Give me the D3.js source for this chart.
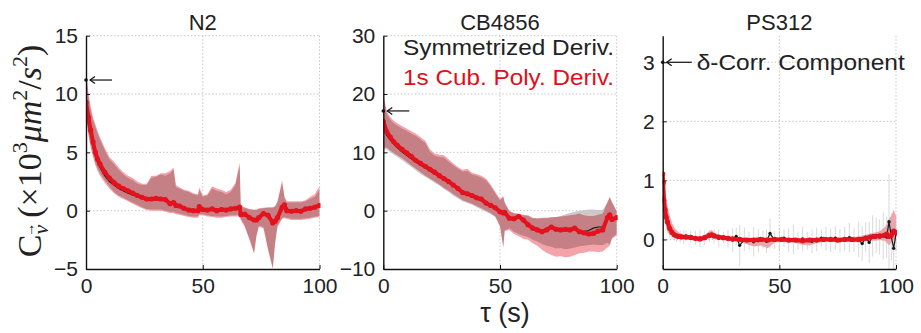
<!DOCTYPE html>
<html>
<head>
<meta charset="utf-8">
<script src="https://cdn.jsdelivr.net/npm/d3@7"></script>
<style>
  body { margin: 0; background: #fff; }
  svg text { font-family: "Liberation Sans", Arial, sans-serif; fill: #222; }
  .grid line { stroke: #c6c6c6; stroke-dasharray: 1.5,2; }
  .band-gray { mix-blend-mode: multiply; }
</style>
</head>
<body>
<svg width="921" height="333"></svg>
<script>
// ---- N2 ----
var tauN2 = [0,1,2,3,4,5,6,8,10,12,14,16,18,20,22,24,26,28,30,32,34,36,37.5,38.5,40,42,44,46,48,48.5,50,52,54,56,58,60,62,64,65.8,66.3,68,70,72,73,74,76,78,80,81,82,84,85,86,88,90,92,94,96,98,100];
var redN2 = [9.3,8.0,6.9,5.9,5.0,4.4,4.0,3.3,2.8,2.4,2.1,1.9,1.7,1.5,1.3,1.15,1.0,1.0,1.05,1.0,0.95,0.6,0.7,0.45,0.4,0.2,0.05,0.0,0.0,0.35,0.1,0.05,0.15,0.0,0.1,0.05,0.15,0.2,0.3,-0.35,-0.3,-0.6,-0.8,-0.8,-0.6,-0.25,-0.4,-1.05,-0.9,-0.6,0.3,0.5,0.0,-0.05,0.0,-0.05,0.15,0.2,0.3,0.45];
var blackN2 = [8.8,7.6,6.5,5.5,4.7,4.1,3.7,3.0,2.5,2.2,1.9,1.7,1.5,1.35,1.2,1.05,0.95,0.95,1.0,0.95,0.9,0.6,0.65,0.45,0.35,0.2,0.05,-0.05,-0.05,0.3,0.05,0.0,0.1,-0.05,0.05,0.0,0.1,0.15,0.25,-0.4,-0.35,-0.65,-0.85,-0.85,-0.65,-0.3,-0.45,-1.1,-0.95,-0.65,0.25,0.45,-0.05,-0.1,-0.05,-0.1,0.1,0.15,0.25,0.4];
var redHiN2 = [12.3,10.2,8.9,8.0,7.4,6.8,6.3,5.4,4.6,4.2,3.7,3.3,3.0,2.8,2.5,2.3,2.3,3.0,3.0,3.2,3.2,3.4,3.7,2.2,2.0,1.8,1.7,1.5,1.4,2.0,1.3,1.4,2.1,1.9,1.8,1.6,1.8,2.4,4.1,0.4,0.3,0.15,0.1,0.1,0.2,0.25,0.3,0.3,0.4,0.8,2.6,1.2,0.8,0.8,0.8,0.8,0.9,1.2,1.4,2.1];
var redLoN2 = [8.0,6.5,5.4,4.6,3.9,3.4,3.0,2.4,1.9,1.5,1.2,1.0,0.8,0.6,0.4,0.2,0.05,0.0,0.0,0.0,-0.1,-0.2,-0.2,-0.3,-0.35,-0.45,-0.55,-0.6,-0.6,-0.4,-0.4,-0.5,-0.55,-0.6,-0.6,-0.55,-0.5,-0.5,-0.4,-0.8,-1.4,-2.5,-3.7,-2.2,-1.4,-1.5,-3.4,-5.0,-2.8,-1.4,-0.7,-0.66,-0.7,-0.8,-0.8,-0.8,-0.75,-0.7,-0.6,-0.55];
var blackHiN2 = [11.8,9.8,8.6,7.8,7.2,6.6,6.1,5.2,4.4,4.0,3.5,3.1,2.8,2.6,2.3,2.2,2.2,2.8,2.9,3.1,3.0,3.2,3.5,2.0,1.9,1.7,1.6,1.4,1.3,1.8,1.2,1.3,1.9,1.7,1.6,1.4,1.6,2.2,3.9,0.3,0.25,0.1,0.05,0.05,0.15,0.2,0.25,0.25,0.35,0.7,2.4,1.1,0.7,0.7,0.7,0.7,0.8,1.0,1.2,1.8];
var blackLoN2 = [8.2,6.7,5.6,4.8,4.1,3.6,3.2,2.6,2.1,1.6,1.3,1.1,0.9,0.7,0.5,0.3,0.15,0.1,0.1,0.1,0.0,-0.1,-0.1,-0.2,-0.25,-0.35,-0.45,-0.5,-0.5,-0.3,-0.3,-0.4,-0.45,-0.5,-0.5,-0.45,-0.4,-0.4,-0.3,-0.7,-1.3,-2.4,-3.6,-2.1,-1.3,-1.4,-3.3,-4.9,-2.7,-1.3,-0.6,-0.55,-0.6,-0.7,-0.7,-0.7,-0.65,-0.6,-0.5,-0.45];

// ---- CB4856 ----
var tauCB = [0,1.5,3,4.5,6,8,10,12,14,16,18,20,22,24,26,28,30,32,34,36,38,40,42,44,46,48,50,51.4,52,54,56,58,60,62,64,66,68,70,72,74,76,78,80,82,84,86,88,90,92,94,96,97,98,100];
var redCB = [15.3,13.5,12.6,11.8,11.2,10.5,9.9,9.3,8.6,8.1,7.6,7.1,6.6,6.0,5.5,5.0,4.4,3.8,3.1,2.9,2.6,2.2,2.0,1.3,0.9,0.5,-0.2,-0.4,-0.3,-1.3,-1.4,-1.0,-1.6,-2.4,-3.0,-3.3,-3.6,-3.3,-2.8,-3.2,-3.3,-3.2,-3.3,-3.0,-3.6,-3.8,-4.0,-3.9,-3.5,-3.3,-1.2,-0.7,-1.5,-1.2];
var blackCB = [14.2,12.9,12.1,11.4,10.8,10.1,9.5,8.9,8.3,7.8,7.3,6.8,6.3,5.8,5.3,4.8,4.2,3.6,3.0,2.7,2.4,2.0,1.7,1.2,0.8,0.4,-0.3,-0.5,-0.4,-1.2,-1.3,-1.1,-1.7,-2.5,-3.1,-3.4,-3.6,-3.3,-2.9,-3.2,-3.3,-3.1,-3.2,-2.9,-3.5,-3.6,-3.4,-3.0,-2.8,-2.8,-1.4,-1.0,-1.6,-1.3];
var redHiCB = [20.0,17.0,16.0,15.4,15.0,14.5,14.1,13.6,13.2,12.6,12.0,10.5,9.8,9.6,9.5,8.8,8.1,7.5,7.0,7.2,6.5,6.3,6.0,5.5,4.5,3.2,2.0,2.5,1.5,0.0,-0.4,-0.5,-0.7,-0.8,-1.2,-1.3,-1.2,-1.2,-1.1,-1.1,-1.0,-0.9,-0.8,-0.7,-0.5,-0.8,-0.9,-0.9,-0.7,-0.5,1.5,2.4,1.5,-0.2];
var redLoCB = [10.8,10.8,10.3,9.9,9.5,9.0,8.4,7.8,7.2,6.6,6.0,5.5,5.0,4.5,3.9,3.4,2.8,2.3,1.8,1.5,1.2,0.8,0.4,0.0,-0.4,-1.0,-2.6,-6.2,-3.5,-3.3,-4.0,-4.4,-4.8,-5.0,-5.6,-6.0,-6.7,-7.2,-7.6,-7.9,-7.8,-8.0,-7.9,-7.6,-7.3,-7.2,-7.0,-7.0,-7.1,-7.0,-6.3,-6.0,-4.8,-4.2];
var blackHiCB = [19.5,16.6,15.6,15.0,14.6,14.1,13.7,13.2,12.8,12.2,11.6,10.1,9.4,9.2,9.1,8.4,7.8,7.2,6.7,6.8,6.2,6.0,5.7,5.2,4.2,3.0,1.8,2.3,1.3,-0.1,-0.5,-0.6,-0.8,-0.9,-1.3,-1.4,-1.3,-1.3,-1.2,-1.1,-0.9,-0.6,-0.4,-0.2,0.0,0.1,0.2,0.2,0.1,0.1,1.3,2.2,1.4,0.0];
var blackLoCB = [10.5,10.5,10.0,9.6,9.2,8.7,8.1,7.5,6.9,6.3,5.8,5.3,4.8,4.3,3.7,3.2,2.6,2.1,1.6,1.3,1.0,0.6,0.2,-0.2,-0.6,-1.1,-2.8,-6.4,-3.4,-3.0,-3.6,-4.0,-4.3,-4.5,-5.0,-5.3,-5.7,-6.0,-6.2,-6.5,-6.4,-6.6,-6.5,-6.3,-6.1,-6.0,-5.9,-5.8,-5.9,-5.9,-5.5,-5.8,-4.6,-4.0];

// ---- PS312 ----
var tauPSred = [0,0.25,0.5,1,1.5,2,3,4,5,6,7,8,10,12,14,16,18,20,21,22,24,26,28,30,33,36,39,42,45,48,51,54,57,60,63,66,69,72,75,78,81,84,87,89,91,93,95,96,97,98,99,100];
var redPS = [1.11,0.96,0.66,0.5,0.38,0.3,0.19,0.12,0.08,0.06,0.05,0.045,0.04,0.035,0.02,0.01,0.03,0.07,0.08,0.06,0.04,0.03,0.02,0.01,0.0,-0.01,-0.01,0.0,-0.01,0.0,0.0,-0.01,-0.01,-0.02,-0.01,-0.01,0.0,0.0,-0.01,0.0,0.0,0.0,0.02,0.04,0.05,0.06,0.07,0.09,0.05,0.07,0.14,0.12];
var redHiPS = [1.45,1.3,1.05,0.85,0.7,0.58,0.4,0.28,0.2,0.15,0.12,0.1,0.08,0.07,0.05,0.05,0.08,0.14,0.16,0.12,0.08,0.06,0.05,0.04,0.03,0.03,0.03,0.04,0.03,0.03,0.03,0.03,0.03,0.02,0.03,0.03,0.04,0.04,0.03,0.04,0.04,0.05,0.08,0.1,0.12,0.14,0.2,0.25,0.35,0.4,0.5,0.4];
var redLoPS = [0.8,0.65,0.4,0.28,0.2,0.14,0.08,0.05,0.03,0.02,0.01,0.0,0.0,-0.01,-0.02,-0.03,-0.01,0.02,0.03,0.02,0.0,-0.01,-0.02,-0.03,-0.04,-0.08,-0.12,-0.1,-0.15,-0.05,-0.04,-0.05,-0.06,-0.09,-0.1,-0.06,-0.04,-0.04,-0.05,-0.04,-0.04,-0.05,-0.03,-0.02,-0.02,-0.01,-0.02,-0.05,-0.1,-0.05,0.0,-0.05];
var tauPSblack = [0.5,1,2,3,4,5,6,7.5,9,10,12,14,16,18,20,22,24,26,28,30,31.5,33,35,37,39,41,43,44.5,46,48,50,52,54,56,58,60,62,64,66,68,70,72,74,76,78,80,82,84,85.5,87,88.5,90,91.5,93,94.5,96,97,98,99,100];
var blackPS = [0.7,0.5,0.3,0.18,0.12,0.08,0.06,0.05,0.04,0.06,0.05,0.03,0.02,0.03,0.06,0.05,0.02,0.03,0.01,-0.01,0.05,-0.1,0.0,-0.02,-0.04,-0.02,0.0,-0.03,0.1,-0.01,0.0,0.02,-0.01,0.0,-0.02,0.01,-0.02,-0.03,0.0,0.02,0.01,-0.01,0.02,-0.02,0.01,0.03,-0.01,0.0,-0.07,0.04,-0.05,0.06,0.07,0.04,0.06,0.04,0.3,0.05,-0.15,0.1];
var blackErrPS = [0.3,0.25,0.2,0.15,0.12,0.1,0.1,0.1,0.12,0.1,0.1,0.12,0.15,0.12,0.1,0.12,0.15,0.1,0.15,0.2,0.15,0.35,0.2,0.15,0.25,0.2,0.15,0.2,0.25,0.15,0.2,0.15,0.2,0.25,0.15,0.2,0.15,0.2,0.2,0.15,0.2,0.2,0.2,0.2,0.2,0.25,0.2,0.3,0.3,0.25,0.35,0.35,0.3,0.3,0.4,0.35,0.8,0.4,0.45,0.3];

// delta-correlated component (value at tau = 0) marked by arrows
var deltaValues = [11.2, 17.1, 3.0];
var titles = ["N2", "CB4856", "PS312"];
var legendLabels = ["Symmetrized Deriv.", "1s Cub. Poly. Deriv."];

var RED = "#e3121e";
var svg = d3.select("svg");
var plotTop = 35.7, plotBottom = 269;

var panels = [
  { left: 86, right: 319.5, domain: [-5, 15], ticks: [-5, 0, 5, 10, 15], grid: [0, 5, 10, 15],
    tau: tauN2, red: redN2, black: blackN2, redHi: redHiN2, redLo: redLoN2, blackHi: blackHiN2, blackLo: blackLoN2 },
  { left: 383.3, right: 616.7, domain: [-10, 30], ticks: [-10, 0, 10, 20, 30], grid: [0, 10, 20, 30],
    tau: tauCB, red: redCB, black: blackCB, redHi: redHiCB, redLo: redLoCB, blackHi: blackHiCB, blackLo: blackLoCB },
  { left: 662.7, right: 896, domain: [-0.5, 3.45], ticks: [0, 1, 2, 3], grid: [0, 1, 2, 3],
    tau: tauPSred, red: redPS, redHi: redHiPS, redLo: redLoPS,
    tauBlack: tauPSblack, black: blackPS, blackErr: blackErrPS }
];

panels.forEach(function (p, i) { drawPanel(p, i); });

/*
 * Jeden panel grafu
 */
function drawPanel(p, i) {
  var x = d3.scaleLinear().domain([0, 100]).range([p.left, p.right]);
  var y = d3.scaleLinear().domain(p.domain).range([plotBottom, plotTop]);
  var g = svg.append("g");

  var clipId = "clip" + i;
  svg.append("clipPath").attr("id", clipId).append("rect")
    .attr("x", p.left).attr("y", plotTop - 1)
    .attr("width", p.right - p.left + 1).attr("height", plotBottom - plotTop + 1);

  // grid
  var grid = g.append("g").attr("class", "grid");
  grid.selectAll(".gy").data(p.grid).enter().append("line")
    .attr("x1", p.left).attr("x2", p.right)
    .attr("y1", function (d) { return y(d); }).attr("y2", function (d) { return y(d); });
  grid.selectAll(".gx").data([50, 100]).enter().append("line")
    .attr("x1", function (d) { return x(d); }).attr("x2", function (d) { return x(d); })
    .attr("y1", plotTop).attr("y2", plotBottom);

  var plot = g.append("g").attr("clip-path", "url(#" + clipId + ")");
  var idx = d3.range(p.tau.length);

  var redBand = d3.area()
    .x(function (k) { return x(p.tau[k]); })
    .y0(function (k) { return y(p.redLo[k]); })
    .y1(function (k) { return y(p.redHi[k]); });
  plot.append("path").datum(idx).attr("d", redBand)
    .attr("fill", "#f3a3a9");

  if (p.blackHi) {
    var grayBand = d3.area()
      .x(function (k) { return x(p.tau[k]); })
      .y0(function (k) { return y(p.blackLo[k]); })
      .y1(function (k) { return y(p.blackHi[k]); });
    plot.append("path").datum(idx).attr("d", grayBand)
      .attr("class", "band-gray").attr("fill", "#cec9c9");
  }

  var tauB = p.tauBlack || p.tau;
  var idxB = d3.range(tauB.length);

  if (p.blackErr) {
    plot.selectAll(".err").data(idxB).enter().append("line")
      .attr("x1", function (k) { return x(tauB[k]); })
      .attr("x2", function (k) { return x(tauB[k]); })
      .attr("y1", function (k) { return y(p.black[k] - p.blackErr[k]); })
      .attr("y2", function (k) { return y(p.black[k] + p.blackErr[k]); })
      .attr("stroke", "#bbb").attr("stroke-width", 0.8).attr("opacity", 0.7);
  }

  var blackLine = d3.line()
    .x(function (k) { return x(tauB[k]); })
    .y(function (k) { return y(p.black[k]); });
  plot.append("path").datum(idxB).attr("d", blackLine)
    .attr("fill", "none").attr("stroke", "#1a1a1a").attr("stroke-width", 1.2);
  if (p.blackErr) {
    plot.selectAll(".bdot").data(idxB).enter().append("circle")
      .attr("cx", function (k) { return x(tauB[k]); })
      .attr("cy", function (k) { return y(p.black[k]); })
      .attr("r", 1.7).attr("fill", "#1a1a1a");
  }

  var redLine = d3.line()
    .x(function (k) { return x(p.tau[k]); })
    .y(function (k) { return y(p.red[k]); });
  plot.append("path").datum(idx).attr("d", redLine)
    .attr("fill", "none").attr("stroke", RED).attr("stroke-width", 4)
    .attr("stroke-linejoin", "round");
  plot.selectAll(".rdot").data(idx).enter().append("circle")
    .attr("cx", function (k) { return x(p.tau[k]); })
    .attr("cy", function (k) { return y(p.red[k]); })
    .attr("r", 2.6).attr("fill", RED);

  // axes
  var ya = g.append("g").attr("transform", "translate(" + p.left + ",0)")
    .call(d3.axisLeft(y).tickValues(p.ticks).tickFormat(d3.format("~g"))
      .tickSizeInner(-4).tickSizeOuter(0).tickPadding(8));
  var xa = g.append("g").attr("transform", "translate(0," + plotBottom + ")")
    .call(d3.axisBottom(x).tickValues([0, 50, 100]).tickSizeInner(-4).tickSizeOuter(0).tickPadding(9));
  [ya, xa].forEach(function (a) {
    a.attr("font-family", null).attr("font-size", 21);
    a.select(".domain").attr("stroke", "#111").attr("stroke-width", 1.4);
    a.selectAll(".tick line").attr("stroke", "#111");
    a.selectAll(".tick text").attr("fill", "#222");
  });

  // title
  g.append("text").attr("x", (p.left + p.right) / 2).attr("y", 29.5)
    .attr("text-anchor", "middle").attr("font-size", 22).text(titles[i]);

  // delta arrow
  var yd = y(deltaValues[i]);
  var x0 = x(0);
  g.append("circle").attr("cx", x0).attr("cy", yd).attr("r", 1.8).attr("fill", "#111");
  var x1 = i === 2 ? x0 + 29 : x0 + 26;
  g.append("line").attr("x1", x1).attr("x2", x0 + 4).attr("y1", yd).attr("y2", yd)
    .attr("stroke", "#111").attr("stroke-width", 1.2);
  g.append("path")
    .attr("d", "M" + (x0 + 9) + "," + (yd - 3.5) + "L" + (x0 + 4) + "," + yd + "L" + (x0 + 9) + "," + (yd + 3.5))
    .attr("fill", "none").attr("stroke", "#111").attr("stroke-width", 1.2);
  if (i === 2) {
    g.append("text").attr("x", x0 + 34).attr("y", yd + 7.3)
      .attr("font-size", 22).attr("textLength", 208).attr("lengthAdjust", "spacingAndGlyphs")
      .text("\u03b4-Corr. Component");
  }
  if (i === 1) {
    g.append("text").attr("x", 614).attr("y", 55).attr("text-anchor", "end")
      .attr("font-size", 22).attr("textLength", 211).attr("lengthAdjust", "spacingAndGlyphs")
      .text(legendLabels[0]);
    g.append("text").attr("x", 614).attr("y", 85).attr("text-anchor", "end")
      .attr("font-size", 22).attr("textLength", 211).attr("lengthAdjust", "spacingAndGlyphs")
      .style("fill", "#e0101a").text(legendLabels[1]);
  }
}

// y label (rotated, LaTeX-like)
var yl = svg.append("text")
  .attr("transform", "translate(41,151) rotate(-90)")
  .attr("text-anchor", "middle")
  .style("font-family", "'Liberation Serif', 'Times New Roman', serif")
  .attr("font-size", 34);
yl.append("tspan").text("C");
yl.append("tspan").attr("dy", 7).attr("font-size", 22).style("font-style", "italic").text("v");
yl.append("tspan").attr("dx", -12).attr("dy", -14).attr("font-size", 14).text("\u2192");
yl.append("tspan").attr("dx", 5).attr("dy", 7).text("(\u00d710");
yl.append("tspan").attr("dy", -14).attr("font-size", 22).text("3");
yl.append("tspan").attr("dy", 14).style("font-style", "italic").text("\u03bcm");
yl.append("tspan").attr("dy", -14).attr("font-size", 22).text("2");
yl.append("tspan").attr("dy", 14).text("/");
yl.append("tspan").style("font-style", "italic").text("s");
yl.append("tspan").attr("dy", -14).attr("font-size", 22).text("2");
yl.append("tspan").attr("dy", 14).text(")");

// x label
svg.append("text").attr("x", 505).attr("y", 322).attr("text-anchor", "middle")
  .attr("font-size", 27).text("\u03c4 (s)");
</script>
</body>
</html>
